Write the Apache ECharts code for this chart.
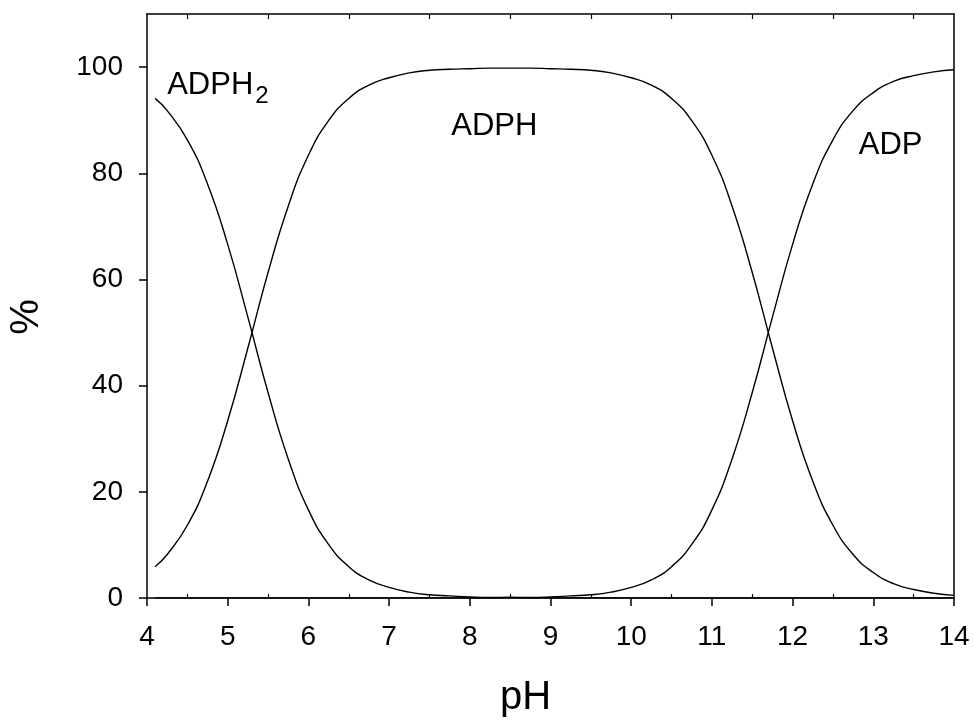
<!DOCTYPE html>
<html>
<head>
<meta charset="utf-8">
<script src="https://cdn.jsdelivr.net/npm/echarts@6/dist/echarts.min.js"></script>
<style>
  html, body { margin: 0; padding: 0; background: #fff; }
  #chart { width: 974px; height: 723px; }
</style>
</head>
<body>
<div id="chart"></div>
<script>
// pH grid of the speciation curves
const pH = [4.1, 4.25, 4.5, 4.75, 5.0, 5.25, 5.5, 5.75, 6.0, 6.25, 6.5, 6.75, 7.0, 7.25, 7.5, 7.75,
            8.0, 8.25, 8.5, 8.75, 9.0, 9.25, 9.5, 9.75, 10.0, 10.25, 10.5, 10.75, 11.0, 11.25, 11.5,
            11.75, 12.0, 12.25, 12.5, 12.75, 13.0, 13.25, 13.5, 13.75, 14.0];

// Percentage of each species at the pH values above
const ADPH2 = [94.1, 91.8, 86.3, 78.0, 66.6, 52.9, 38.7, 26.2, 16.6, 10.1, 5.9, 3.4, 2.0, 1.1, 0.6, 0.4,
               0.2, 0.1, 0.1, 0, 0, 0, 0, 0, 0, 0, 0, 0, 0, 0, 0,
               0, 0, 0, 0, 0, 0, 0, 0, 0, 0];
const ADPH = [5.9, 8.2, 13.7, 22.0, 33.4, 47.1, 61.3, 73.8, 83.4, 89.9, 94.1, 96.6, 98.0, 98.9, 99.4, 99.6,
              99.7, 99.8, 99.8, 99.8, 99.7, 99.6, 99.4, 98.9, 98.0, 96.6, 94.1, 89.9, 83.4, 73.8, 61.3,
              47.1, 33.4, 22.0, 13.7, 8.2, 4.8, 2.7, 1.6, 0.9, 0.5];
const ADP = [0, 0, 0, 0, 0, 0, 0, 0, 0, 0, 0, 0, 0, 0, 0, 0,
             0, 0, 0.1, 0.1, 0.2, 0.4, 0.6, 1.1, 2.0, 3.4, 5.9, 10.1, 16.6, 26.2, 38.7,
             52.9, 66.6, 78.0, 86.3, 91.8, 95.2, 97.3, 98.4, 99.1, 99.5];

// Axis ticks
const xTicks = [4, 5, 6, 7, 8, 9, 10, 11, 12, 13, 14];
const xHalfTicks = [4.5, 5.5, 6.5, 7.5, 8.5, 9.5, 10.5, 11.5, 12.5, 13.5];
const yTicks = [0, 20, 40, 60, 80, 100];

// Species labels: text and anchor in data coordinates [pH, %]
const speciesLabels = [
  { text: 'ADPH', at: [4.25, 96.6], size: 31 },
  { text: '2', at: [5.34, 94.4], size: 24 },
  { text: 'ADPH', at: [7.77, 88.9], size: 31 },
  { text: 'ADP', at: [12.82, 85.2], size: 31 }
];

const FONT = "'Liberation Sans', Arial, sans-serif";
const INK = '#000';

const pairs = ys => pH.map((x, i) => [x, ys[i]]);

const lineSeries = (name, ys) => ({
  name: name,
  type: 'line',
  data: pairs(ys),
  xAxisIndex: 0,
  yAxisIndex: 0,
  smooth: true,
  symbol: 'none',
  lineStyle: { color: INK, width: 1.4 },
  itemStyle: { color: INK },
  silent: true,
  z: 3
});

const chart = echarts.init(document.getElementById('chart'), null, { renderer: 'canvas' });

chart.setOption({
  backgroundColor: '#fff',
  animation: false,
  grid: { left: 147, right: 20, top: 14, bottom: 125, outerBoundsMode: 'none', containLabel: false },
  xAxis: [
    {
      type: 'value', position: 'bottom', min: 4, max: 14, interval: 1,
      name: 'pH', nameLocation: 'middle', nameGap: 80,
      nameTextStyle: { fontFamily: FONT, fontSize: 40, color: INK, padding: [0, 50, 0, 0] },
      axisLine: { show: true, onZero: false, lineStyle: { color: INK, width: 1.5 } },
      axisTick: { show: true, inside: false, length: 8, customValues: xTicks, lineStyle: { color: INK, width: 1.5 } },
      axisLabel: { show: true, margin: 25, customValues: xTicks, fontFamily: FONT, fontSize: 28, color: INK },
      splitLine: { show: false }
    },
    {
      type: 'value', position: 'bottom', min: 4, max: 14, interval: 1,
      axisLine: { show: false, onZero: false },
      axisTick: { show: true, inside: true, length: 4, customValues: xHalfTicks, lineStyle: { color: INK, width: 1.2 } },
      axisLabel: { show: false },
      splitLine: { show: false }
    },
    {
      type: 'value', position: 'top', min: 4, max: 14, interval: 1,
      axisLine: { show: true, onZero: false, lineStyle: { color: INK, width: 1.5 } },
      axisTick: { show: true, inside: true, length: 5, customValues: xHalfTicks, lineStyle: { color: INK, width: 1.2 } },
      axisLabel: { show: false },
      splitLine: { show: false }
    }
  ],
  yAxis: [
    {
      type: 'value', position: 'left', min: 0, max: 110, interval: 20,
      name: '%', nameLocation: 'middle', nameGap: 100, nameRotate: 90,
      nameTextStyle: { fontFamily: FONT, fontSize: 40, color: INK, padding: [0, 22, 0, 0] },
      axisLine: { show: true, onZero: false, lineStyle: { color: INK, width: 1.5 } },
      axisTick: { show: true, inside: false, length: 8, customValues: yTicks, lineStyle: { color: INK, width: 1.5 } },
      axisLabel: { show: true, margin: 24, customValues: yTicks, fontFamily: FONT, fontSize: 28, color: INK },
      splitLine: { show: false }
    },
    {
      type: 'value', position: 'right', min: 0, max: 110,
      axisLine: { show: true, onZero: false, lineStyle: { color: INK, width: 1.5 } },
      axisTick: { show: false },
      axisLabel: { show: false },
      splitLine: { show: false }
    }
  ],
  series: [
    lineSeries('ADPH2', ADPH2),
    lineSeries('ADPH', ADPH),
    lineSeries('ADP', ADP)
  ]
});

// Place the species names at their data coordinates
chart.setOption({
  graphic: speciesLabels.map(l => {
    const p = chart.convertToPixel({ xAxisIndex: 0, yAxisIndex: 0 }, l.at);
    return {
      type: 'text',
      x: p[0],
      y: p[1],
      silent: true,
      z: 10,
      style: {
        text: l.text,
        fill: INK,
        font: l.size + 'px ' + FONT,
        textAlign: 'left',
        textVerticalAlign: 'middle'
      }
    };
  })
});
</script>
</body>
</html>
